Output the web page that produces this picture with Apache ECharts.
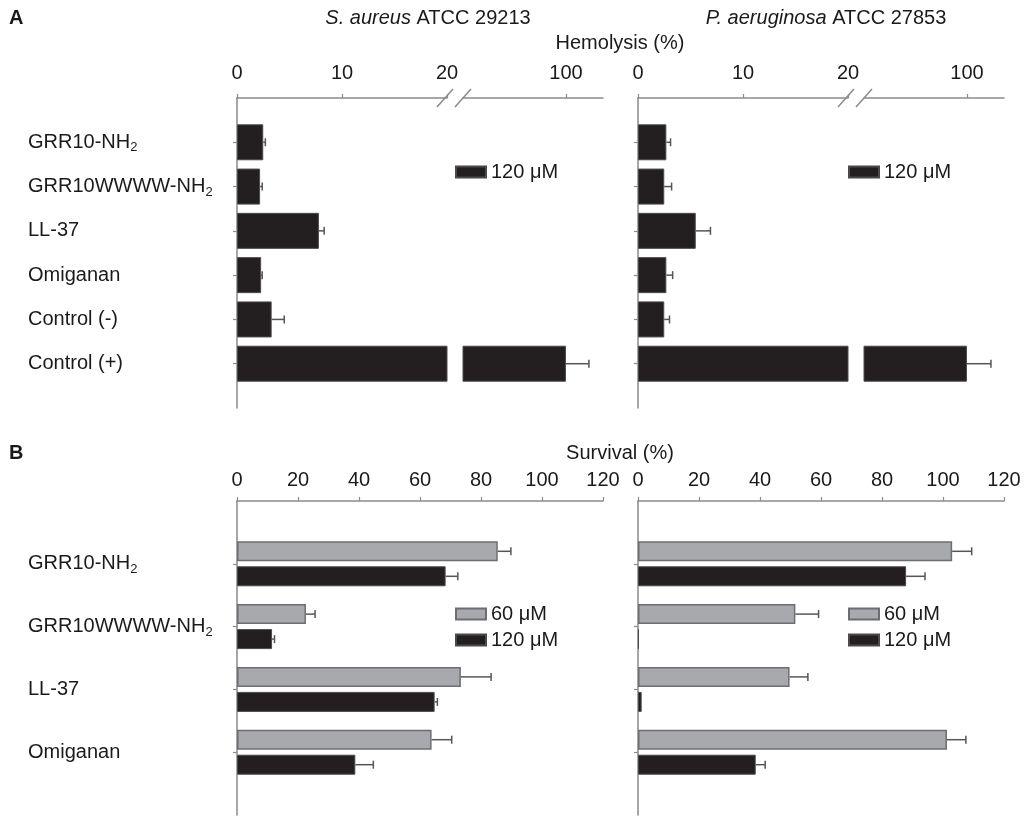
<!DOCTYPE html>
<html>
<head>
<meta charset="utf-8">
<script src="https://cdn.jsdelivr.net/npm/echarts@6/dist/echarts.min.js"></script>
<style>
html,body{margin:0;padding:0;background:#ffffff;}
#chart{width:1025px;height:817px;}
</style>
</head>
<body>
<div id="chart"></div>
<script>
// ---------- data ----------
const categoriesA = ['GRR10-NH2', 'GRR10WWWW-NH2', 'LL-37', 'Omiganan', 'Control (-)', 'Control (+)'];
const categoriesB = ['GRR10-NH2', 'GRR10WWWW-NH2', 'LL-37', 'Omiganan'];

// Panel A: hemolysis (%) at 120 µM
const hemoSaureus    = [2.5, 2.2, 7.8, 2.3, 3.3, 100];
const hemoSaureusErr = [0.2, 0.2, 0.5, 0.1, 1.2, 6.7];
const hemoPaeru      = [2.7, 2.5, 5.5, 2.7, 2.5, 100];
const hemoPaeruErr   = [0.4, 0.7, 1.4, 0.6, 0.5, 7.0];

// Panel B: survival (%)
const survSaureus60     = [85.5, 22.6, 73.4, 63.8];
const survSaureus60Err  = [4.3, 3.0, 9.9, 6.6];
const survSaureus120    = [68.4, 11.5, 64.8, 38.8];
const survSaureus120Err = [4.0, 0.8, 0.9, 5.9];
const survPaeru60       = [103.0, 51.6, 49.7, 101.3];
const survPaeru60Err    = [6.4, 7.6, 6.0, 6.2];
const survPaeru120      = [87.9, 0.3, 1.2, 38.6];
const survPaeru120Err   = [6.2, 0, 0, 3.1];

const hemoTicksLow  = [0, 10, 20];
const hemoTicksHigh = [100];
const survTicks     = [0, 20, 40, 60, 80, 100, 120];

// ---------- styling ----------
const FONT = '"Liberation Sans", Arial, Helvetica, sans-serif';
const TXT = '#1a1a1a';
const AX = '#8a8a8a';
const BLACK = '#231f20';
const GRAY = '#a7a9ac';
const LOW_MAX = 20;

const padA = ['', ...categoriesA, ' '];
const padB = ['', ...categoriesB, ' '];

function padVals(arr, filt) {
  return [null, ...arr.map(v => (filt ? (filt(v) ? v : null) : v)), null];
}
function errData(vals, errs, filt) {
  const out = [];
  vals.forEach((v, i) => {
    if (errs[i] > 0 && (!filt || filt(v))) out.push([v, errs[i], i + 1]);
  });
  return out;
}

function labelFormatter(val) {
  if (!val.trim()) return '';
  const m = val.match(/^(.*NH)2$/);
  return m ? '{t|' + m[1] + '}{s|2}' : '{t|' + val + '}';
}
const labelRich = {
  t: { fontSize: 20, fontFamily: FONT, color: TXT },
  s: { fontSize: 13, fontFamily: FONT, color: TXT, padding: [11, 0, 0, 0] }
};

function yAxisCfg(gridIndex, cats, visible, showLabel) {
  return {
    type: 'category', gridIndex, data: cats, inverse: true, boundaryGap: false, show: visible,
    axisLine: { show: true, lineStyle: { color: AX, width: 1.5 } },
    axisTick: { show: true, length: 4, interval: (i, v) => String(v).trim() !== '', lineStyle: { color: AX, width: 1.2 } },
    axisLabel: { show: showLabel, interval: 0, align: 'left', margin: 209, formatter: labelFormatter, rich: labelRich },
    splitLine: { show: false }
  };
}

function xAxisCfg(gridIndex, min, max, ticks, margin) {
  return {
    type: 'value', position: 'top', gridIndex, min, max,
    axisLine: { show: true, lineStyle: { color: AX, width: 1.5 } },
    axisTick: { show: true, length: 4, lineStyle: { color: AX, width: 1.2 }, customValues: ticks },
    axisLabel: { fontSize: 20, fontFamily: FONT, color: TXT, margin, customValues: ticks },
    splitLine: { show: false }
  };
}

const barBlack = { color: BLACK, borderColor: '#4a4a4a', borderWidth: 1 };
const barGray = { color: GRAY, borderColor: '#6d6e71', borderWidth: 1.5 };

function errRender(dy) {
  return function (params, api) {
    const v = api.value(0), e = api.value(1), c = api.value(2);
    const p0 = api.coord([v, c]);
    const p1 = api.coord([v + e, c]);
    const y = p0[1] + dy;
    const st = { stroke: '#555', lineWidth: 1.5 };
    return {
      type: 'group',
      children: [
        { type: 'line', shape: { x1: p0[0], y1: y, x2: p1[0], y2: y }, style: st },
        { type: 'line', shape: { x1: p1[0], y1: y - 4, x2: p1[0], y2: y + 4 }, style: st }
      ]
    };
  };
}
function errSeries(xi, yi, data, dy) {
  return { type: 'custom', xAxisIndex: xi, yAxisIndex: yi, data, renderItem: errRender(dy),
           encode: { x: 0, y: 2 }, z: 5, silent: true };
}

const low = v => v <= LOW_MAX;
const high = v => v > LOW_MAX;

const option = {
  animation: false,
  backgroundColor: '#ffffff',
  textStyle: { fontFamily: FONT },
  grid: [
    { left: 237, top: 98, width: 210, height: 310 },
    { left: 463, top: 98, width: 140, height: 310 },
    { left: 638, top: 98, width: 210, height: 310 },
    { left: 864, top: 98, width: 140, height: 310 },
    { left: 237, top: 501, width: 366, height: 314 },
    { left: 638, top: 501, width: 366, height: 314 }
  ],
  xAxis: [
    xAxisCfg(0, 0, LOW_MAX, hemoTicksLow, 15),
    xAxisCfg(1, 70, 110.8, hemoTicksHigh, 15),
    xAxisCfg(2, 0, LOW_MAX, hemoTicksLow, 15),
    xAxisCfg(3, 70, 110.8, hemoTicksHigh, 15),
    xAxisCfg(4, 0, 120, survTicks, 11),
    xAxisCfg(5, 0, 120, survTicks, 11)
  ],
  yAxis: [
    yAxisCfg(0, padA, true, true),
    yAxisCfg(1, padA, false, false),
    yAxisCfg(2, padA, true, false),
    yAxisCfg(3, padA, false, false),
    yAxisCfg(4, padB, true, true),
    yAxisCfg(5, padB, true, false)
  ],
  legend: [
    { data: ['120 μM'], left: 455, top: 162 },
    { data: ['120 μM'], left: 848, top: 162 },
    { data: ['60 μM', '120 μM'], orient: 'vertical', left: 455, top: 604, itemGap: 6 },
    { data: ['60 μM', '120 μM'], orient: 'vertical', left: 848, top: 604, itemGap: 6 }
  ].map(l => Object.assign({
    icon: 'rect', itemWidth: 30, itemHeight: 11, padding: 0, selectedMode: false,
    textStyle: { fontSize: 20, fontFamily: FONT, color: TXT }
  }, l)),
  series: [
    // Panel A, S. aureus
    { type: 'bar', name: '120 μM', xAxisIndex: 0, yAxisIndex: 0, data: padVals(hemoSaureus), barWidth: 36, itemStyle: barBlack, clip: true },
    { type: 'bar', name: '120 μM', xAxisIndex: 1, yAxisIndex: 1, data: padVals(hemoSaureus, high), barWidth: 36, itemStyle: barBlack, clip: true },
    errSeries(0, 0, errData(hemoSaureus, hemoSaureusErr, low), 0),
    errSeries(1, 1, errData(hemoSaureus, hemoSaureusErr, high), 0),
    // Panel A, P. aeruginosa
    { type: 'bar', name: '120 μM', xAxisIndex: 2, yAxisIndex: 2, data: padVals(hemoPaeru), barWidth: 36, itemStyle: barBlack, clip: true },
    { type: 'bar', name: '120 μM', xAxisIndex: 3, yAxisIndex: 3, data: padVals(hemoPaeru, high), barWidth: 36, itemStyle: barBlack, clip: true },
    errSeries(2, 2, errData(hemoPaeru, hemoPaeruErr, low), 0),
    errSeries(3, 3, errData(hemoPaeru, hemoPaeruErr, high), 0),
    // Panel B, S. aureus
    { type: 'bar', name: '60 μM', xAxisIndex: 4, yAxisIndex: 4, data: padVals(survSaureus60), barWidth: 20, barGap: '25%', itemStyle: barGray },
    { type: 'bar', name: '120 μM', xAxisIndex: 4, yAxisIndex: 4, data: padVals(survSaureus120), barWidth: 20, barGap: '25%', itemStyle: barBlack },
    errSeries(4, 4, errData(survSaureus60, survSaureus60Err), -12.5),
    errSeries(4, 4, errData(survSaureus120, survSaureus120Err), 12.5),
    // Panel B, P. aeruginosa
    { type: 'bar', name: '60 μM', xAxisIndex: 5, yAxisIndex: 5, data: padVals(survPaeru60), barWidth: 20, barGap: '25%', itemStyle: barGray },
    { type: 'bar', name: '120 μM', xAxisIndex: 5, yAxisIndex: 5, data: padVals(survPaeru120), barWidth: 20, barGap: '25%', itemStyle: barBlack },
    errSeries(5, 5, errData(survPaeru60, survPaeru60Err), -12.5),
    errSeries(5, 5, errData(survPaeru120, survPaeru120Err), 12.5)
  ],
  graphic: (function () {
    const t = (x, y, text, extra) => ({
      type: 'text', x, y, silent: true,
      style: Object.assign({ text, fill: TXT, font: '20px ' + FONT, align: 'center', textAlign: 'center',
                             verticalAlign: 'middle', textVerticalAlign: 'middle' }, extra || {})
    });
    const rich = {
      i: { fontStyle: 'italic', fontSize: 20, fontFamily: FONT, fill: TXT, color: TXT },
      n: { fontSize: 20, fontFamily: FONT, fill: TXT, color: TXT }
    };
    const slash = (x1, y1, x2, y2) => ({ type: 'line', silent: true, shape: { x1, y1, x2, y2 }, style: { stroke: AX, lineWidth: 1.5 } });
    return [
      t(9, 18, 'A', { font: 'bold 20px ' + FONT, align: 'left', textAlign: 'left' }),
      t(428, 18, '{i|S. aureus}{n| ATCC 29213}', { rich }),
      t(826, 18, '{i|P. aeruginosa}{n| ATCC 27853}', { rich }),
      t(620, 43, 'Hemolysis (%)'),
      t(9, 453, 'B', { font: 'bold 20px ' + FONT, align: 'left', textAlign: 'left' }),
      t(620, 453, 'Survival (%)'),
      slash(437, 107, 453, 89), slash(455, 107, 471, 89),
      slash(838, 107, 854, 89), slash(856, 107, 872, 89)
    ];
  })()
};

const chart = echarts.init(document.getElementById('chart'), null, { renderer: 'canvas' });
chart.setOption(option);
</script>
</body>
</html>
